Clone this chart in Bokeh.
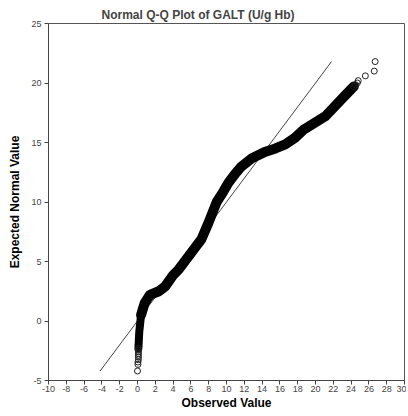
from bokeh.plotting import figure
from bokeh.embed import file_html
from bokeh.resources import INLINE
from bokeh.models import Range1d, FixedTicker, ColumnDataSource

band_observed = [0.1, 0.15, 0.2, 0.4, 0.8, 1.4, 2.4, 3.1, 4.0, 4.6, 6.1, 7.2, 8.0, 8.9,
                 9.5, 10.2, 11.0, 11.7, 12.8, 14.3, 15.5, 16.6, 17.7, 18.7, 21.1, 23.0, 24.3]
band_expected = [-2.3, -1.6, -0.9, 0.5, 1.5, 2.2, 2.5, 2.9, 3.85, 4.3, 5.8, 6.9, 8.3, 10.0,
                 10.7, 11.6, 12.4, 13.0, 13.65, 14.2, 14.5, 14.85, 15.4, 16.1, 17.2, 18.7, 19.7]

tail_observed = [0.0, 0.05, 0.05, 0.1, 0.1, 0.1, 0.1, 0.1, 0.1, 0.1,
                 24.3, 24.5, 24.7, 24.8, 25.6, 26.6, 26.7]
tail_expected = [-4.2, -3.65, -3.45, -3.25, -3.05, -2.9, -2.75, -2.6, -2.45, -2.3,
                 19.7, 19.85, 20.0, 20.2, 20.6, 21.0, 21.8]

ref_line = [-4.2, 21.8]

x_ticks = list(range(-10, 31, 2))
y_ticks = list(range(-5, 26, 5))

p = figure(width=406, height=414, output_backend="svg", toolbar_location=None,
           x_range=Range1d(-10, 30), y_range=Range1d(-5, 25),
           title="Normal Q-Q Plot of GALT (U/g Hb)",
           min_border_left=48, min_border_right=2, min_border_top=23, min_border_bottom=34)

p.title.text_font = "Liberation Sans"
p.title.text_font_size = "12px"
p.title.text_font_style = "bold"
p.title.align = "left"
p.title.offset = 53
p.title.standoff = 3

p.grid.visible = False
p.outline_line_color = "#555555"
p.outline_line_width = 1
p.background_fill_color = "white"
p.border_fill_color = "white"

for ax in (p.xaxis, p.yaxis):
    ax.axis_line_color = "#444444"
    ax.major_tick_line_color = "#444444"
    ax.major_tick_out = 4
    ax.major_tick_in = 0
    ax.minor_tick_line_color = None
    ax.major_label_text_font = "Liberation Sans"
    ax.major_label_text_font_size = "9px"
    ax.major_label_text_color = "#444444"
    ax.axis_label_text_font = "Liberation Sans"
    ax.axis_label_text_font_size = "12px"
    ax.axis_label_text_font_style = "bold"
    ax.axis_label_text_color = "black"

p.xaxis.ticker = FixedTicker(ticks=x_ticks)
p.yaxis.ticker = FixedTicker(ticks=y_ticks)
p.xaxis.major_label_overrides = {t: str(t) for t in x_ticks}
p.yaxis.major_label_overrides = {t: str(t) for t in y_ticks}
p.xaxis.axis_label = "Observed Value"
p.yaxis.axis_label = "Expected Normal Value"
p.xaxis.major_label_standoff = 1
p.xaxis.axis_label_standoff = 1
p.yaxis.major_label_standoff = 3
p.yaxis.axis_label_standoff = 6

# reference line y = x
p.line(ref_line, ref_line, line_color="#444444", line_width=1)

# dense band of observations (lower vertical part is narrower)
p.line(band_observed[:4], band_expected[:4], line_color="black", line_width=8,
       line_cap="round", line_join="round")
p.line(band_observed[3:], band_expected[3:], line_color="black", line_width=10,
       line_cap="round", line_join="round")

# sparse tail observations
src = ColumnDataSource(dict(x=tail_observed, y=tail_expected))
p.scatter("x", "y", source=src, marker="circle", size=6, fill_color=None,
          line_color="#222222", line_width=1)

open("out.html", "w").write(file_html(p, INLINE))
